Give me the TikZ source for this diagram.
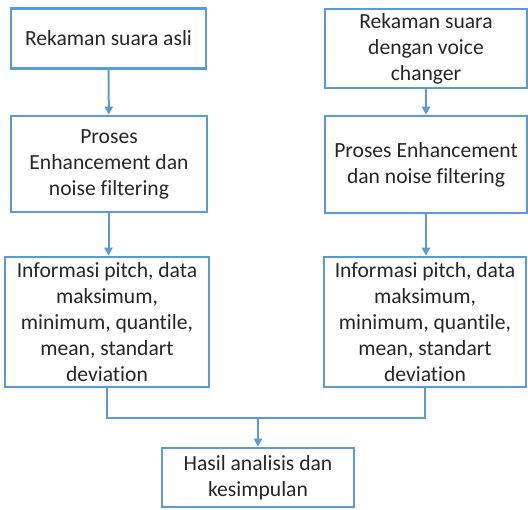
\documentclass[tikz,border=0pt]{standalone}
\usepackage{fontspec}
\setmainfont{Carlito}[Ligatures={NoCommon,NoContextual}]
\usetikzlibrary{arrows.meta}
\definecolor{boxblue}{HTML}{5B9BD5}
\tikzset{
	box/.style={draw=boxblue, line width=1.3pt, align=center, inner sep=0pt,
		font=\fontsize{10.8}{13}\selectfont, text=black!85},
	conn/.style={draw=boxblue, line width=1pt, -{Triangle[length=4pt,width=4pt]}},
	link/.style={draw=boxblue, line width=1pt}
}
\begin{document}
\begin{tikzpicture}[x=0.5pt, y=-0.5pt]
	\useasboundingbox (0,0) rectangle (528,509);
	% left column
	\node[box, minimum width=97.5pt, minimum height=30pt] (asli) at (108.5,38.5) {Rekaman suara asli};
	\node[box, minimum width=98pt, minimum height=48pt] (proses1) at (109,164) {Proses\\Enhancement dan\\noise filtering};
	\node[box, minimum width=102pt, minimum height=65pt] (info1) at (107,322) {Informasi pitch, data\\maksimum,\\minimum, quantile,\\mean, standart\\deviation};
	% right column
	\node[box, minimum width=101pt, minimum height=39.5pt] (voice) at (426,48.5) {Rekaman suara\\dengan voice\\changer};
	\node[box, minimum width=101pt, minimum height=48.5pt] (proses2) at (426,164.5) {Proses Enhancement\\dan noise filtering};
	\node[box, minimum width=101pt, minimum height=65pt] (info2) at (425,322) {Informasi pitch, data\\maksimum,\\minimum, quantile,\\mean, standart\\deviation};
	% result
	\node[box, minimum width=96pt, minimum height=29.5pt] (hasil) at (258,477.5) {Hasil analisis dan\\kesimpulan};
	\coordinate (join) at (258,418);
	\draw[conn] (asli) -- (proses1);
	\draw[conn] (proses1.south -| asli.south) -- (info1.north -| asli.south);
	\draw[conn] (voice) -- (proses2);
	\draw[conn] (proses2.south -| voice.south) -- (info2.north -| voice.south);
	\draw[link] (info1.south) |- (join) -| (info2.south);
	\draw[conn] (join) -- (hasil.north);
\end{tikzpicture}
\end{document}
